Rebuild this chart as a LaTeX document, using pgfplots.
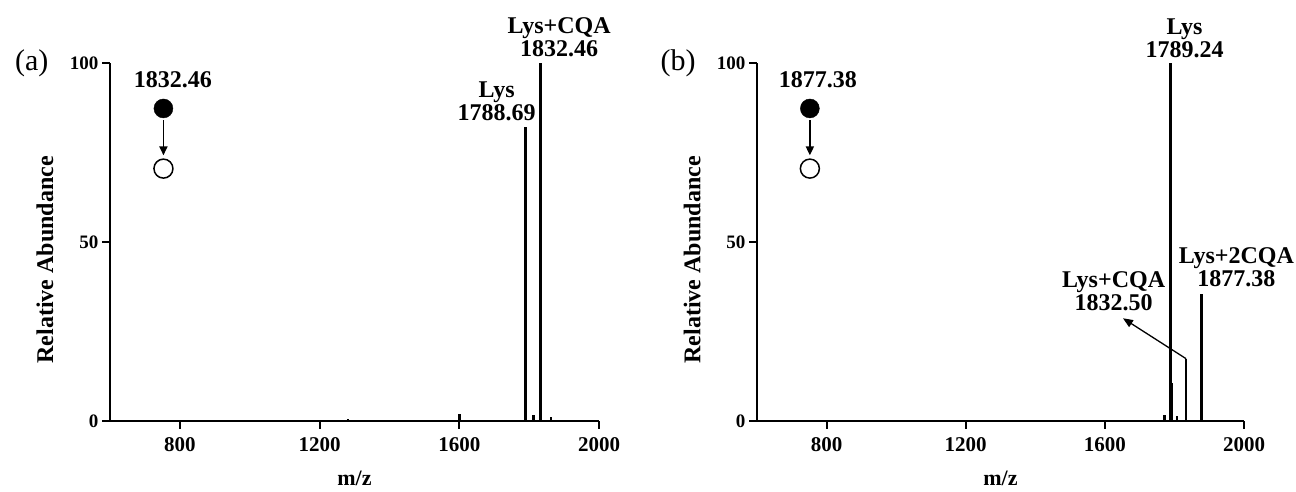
\documentclass[border=0pt]{standalone}
\usepackage{fontspec}
\setmainfont{Liberation Serif}
\usepackage{pgfplots}
\pgfplotsset{compat=1.18}
\usetikzlibrary{arrows.meta}

\pgfplotsset{spec/.style={
  scale only axis, width=489pt, height=358pt,
  xmin=600, xmax=2000, ymin=0, ymax=100,
  axis x line=bottom, axis y line=left,
  axis line style={line width=2pt,-},
  xtick={800,1200,1600,2000}, ytick={0,50,100},
  tick style={line width=2pt,black},
  major tick length=8pt,
  tick align=outside,
  /pgf/number format/assume math mode=true,
  /pgf/number format/set thousands separator={},
  xticklabel style={font=\fontsize{21}{21}\selectfont\bfseries, yshift=-5pt},
  yticklabel style={font=\fontsize{19}{19}\selectfont\bfseries},
  xlabel={m/z}, ylabel={Relative Abundance},
  xlabel style={font=\fontsize{22}{22}\selectfont\bfseries, at={(axis description cs:0.5,-0.159)}, anchor=center},
  ylabel style={font=\fontsize{24}{24}\selectfont\bfseries, at={(axis description cs:-0.133,0.45)}, anchor=center},
  clip=false,
}}
\tikzset{lab/.style={align=center, font=\fontsize{24}{23}\selectfont\bfseries, inner sep=1pt}}

\begin{document}
\begin{tikzpicture}
\path[use as bounding box] (0,0) rectangle (1296pt,492pt);

% ---------------- (a)
\begin{axis}[spec, at={(110pt,71pt)}, anchor=south west]
\addplot[ycomb, black, line width=2.5pt, mark=none] coordinates {
 (1282,0.5) (1600,2) (1789,82) (1791,10.5) (1813,1.6) (1832,100) (1834,7) (1863,1)
};
\addplot[only marks, mark=*, mark size=9.5pt, black] coordinates {(753,87.3)};
\addplot[only marks, mark=o, mark size=9.5pt, black, mark options={line width=1.5pt, fill=white}] coordinates {(753,70.5)};
\draw[-{Triangle[length=9pt,width=8pt]}, line width=1.8pt] (axis cs:753,84) -- (axis cs:753,74.2);
\node[lab] at (axis cs:780,95.3) {1832.46};
\node[lab, anchor=south] at (axis cs:1707,83.5) {Lys\\1788.69};
\node[lab, anchor=south] at (axis cs:1886,101.5) {Lys+CQA\\1832.46};
\node[font=\fontsize{30}{30}\selectfont] at (rel axis cs:-0.16,1.0) {(a)};
\end{axis}

% ---------------- (b)
\begin{axis}[spec, at={(757pt,71pt)}, anchor=south west, width=487pt]
\addplot[ycomb, black, line width=2.5pt, mark=none] coordinates {
 (1772,1.6) (1789,100) (1791,10.5) (1808,1.5) (1833.5,17.4) (1878,35.6)
};
\addplot[only marks, mark=*, mark size=9.5pt, black] coordinates {(752,87.3)};
\addplot[only marks, mark=o, mark size=9.5pt, black, mark options={line width=1.5pt, fill=white}] coordinates {(752,70.5)};
\draw[-{Triangle[length=9pt,width=8pt]}, line width=1.8pt] (axis cs:752,84) -- (axis cs:752,74.2);
\node[lab] at (axis cs:775,95.3) {1877.38};
\node[lab, anchor=south] at (axis cs:1829,101.2) {Lys\\1789.24};
\node[lab, anchor=south] at (axis cs:1978,37.2) {Lys+2CQA\\1877.38};
\node[lab, anchor=south] at (axis cs:1625,30.5) {Lys+CQA\\1832.50};
\draw[-{Triangle[length=10pt,width=8pt]}, line width=1.3pt] (axis cs:1833.5,17.4) -- (axis cs:1652,28.7);
\node[font=\fontsize{30}{30}\selectfont] at (rel axis cs:-0.162,1.0) {(b)};
\end{axis}
\end{tikzpicture}
\end{document}
